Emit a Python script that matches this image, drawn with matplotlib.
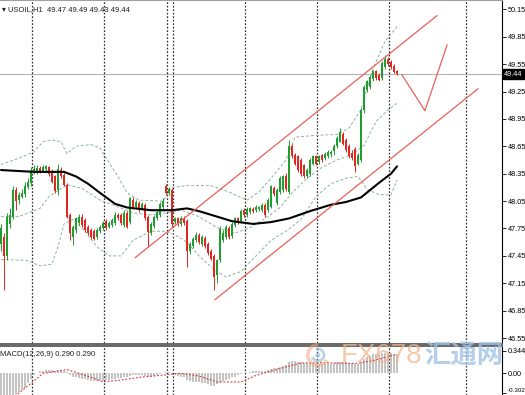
import matplotlib.pyplot as plt
import numpy as np
from matplotlib.patches import Circle, Wedge, Rectangle

plt.rcParams['font.family'] = ['Liberation Sans', 'DejaVu Sans']

symbol = 'USOIL,H1'
last_ohlc = [49.47, 49.49, 49.43, 49.44]

# hourly candles (oldest first)
opens = [47.58, 47.66, 47.45, 47.80, 47.88, 48.17, 48.06, 48.10, 48.13, 48.20,
         48.25, 48.37, 48.37, 48.41, 48.38, 48.40, 48.42, 48.37, 48.32, 48.17,
         48.39, 48.34, 48.23, 47.90, 47.66, 47.73, 47.81, 47.88, 47.84, 47.77,
         47.73, 47.72, 47.66, 47.72, 47.75, 47.83, 47.77, 47.79, 47.81, 47.90,
         47.90, 47.79, 47.92, 47.82, 48.06, 47.99, 48.03, 47.97, 48.01, 47.88,
         47.70, 47.78, 47.86, 47.90, 47.98, 48.21, 48.14, 48.17, 47.82, 47.86,
         47.80, 47.87, 47.83, 47.50, 47.56, 47.62, 47.68, 47.58, 47.65, 47.58,
         47.50, 47.45, 47.24, 47.40, 47.62, 47.66, 47.76, 47.67, 47.79, 47.86,
         47.83, 47.95, 47.90, 47.93, 47.96, 47.95, 47.96, 47.95, 48.01, 47.95,
         47.99, 48.19, 48.03, 48.15, 48.17, 48.33, 48.15, 48.65, 48.56, 48.54,
         48.50, 48.44, 48.32, 48.35, 48.46, 48.54, 48.48, 48.55, 48.52, 48.54,
         48.57, 48.60, 48.65, 48.70, 48.79, 48.72, 48.65, 48.58, 48.62, 48.46,
         48.50, 49.05, 49.27, 49.30, 49.39, 49.47, 49.43, 49.40, 49.52, 49.61,
         49.57, 49.53, 49.47]
highs = [47.80, 47.70, 47.92, 47.97, 48.22, 48.20, 48.15, 48.18, 48.26, 48.30,
         48.42, 48.44, 48.44, 48.43, 48.44, 48.45, 48.43, 48.40, 48.34, 48.46,
         48.42, 48.36, 48.25, 47.92, 47.79, 47.88, 47.91, 47.91, 47.86, 47.79,
         47.75, 47.74, 47.75, 47.79, 47.83, 47.85, 47.83, 47.86, 47.93, 47.92,
         47.92, 47.95, 47.94, 48.10, 48.09, 48.06, 48.05, 48.04, 48.03, 47.90,
         47.82, 47.90, 47.95, 48.04, 48.08, 48.24, 48.20, 48.19, 47.88, 47.88,
         47.89, 47.89, 47.85, 47.60, 47.66, 47.71, 47.70, 47.68, 47.67, 47.60,
         47.52, 47.47, 47.42, 47.78, 47.73, 47.79, 47.78, 47.82, 47.88, 47.88,
         47.96, 47.97, 47.98, 47.99, 47.98, 48.01, 48.00, 48.03, 48.03, 48.08,
         48.23, 48.21, 48.19, 48.32, 48.34, 48.36, 48.72, 48.67, 48.58, 48.56,
         48.52, 48.46, 48.41, 48.52, 48.56, 48.56, 48.56, 48.57, 48.59, 48.61,
         48.61, 48.67, 48.76, 48.85, 48.81, 48.74, 48.67, 48.61, 48.64, 48.58,
         49.07, 49.32, 49.38, 49.43, 49.49, 49.49, 49.45, 49.58, 49.65, 49.63,
         49.59, 49.55, 49.49]
lows = [47.50, 47.08, 47.40, 47.75, 47.85, 47.95, 48.02, 48.08, 48.10, 48.18,
        48.22, 48.35, 48.35, 48.36, 48.37, 48.38, 48.33, 48.25, 48.14, 48.12,
        48.30, 48.21, 47.86, 47.62, 47.57, 47.70, 47.79, 47.77, 47.71, 47.68,
        47.64, 47.62, 47.64, 47.70, 47.73, 47.73, 47.75, 47.77, 47.79, 47.84,
        47.79, 47.77, 47.75, 47.80, 47.97, 47.97, 47.93, 47.95, 47.84, 47.55,
        47.68, 47.76, 47.84, 47.88, 47.96, 48.12, 48.12, 47.77, 47.80, 47.78,
        47.78, 47.79, 47.33, 47.47, 47.54, 47.60, 47.58, 47.56, 47.54, 47.46,
        47.40, 47.08, 47.15, 47.38, 47.60, 47.64, 47.64, 47.65, 47.77, 47.80,
        47.81, 47.88, 47.88, 47.91, 47.92, 47.93, 47.94, 47.93, 47.88, 47.93,
        47.97, 48.11, 48.01, 48.13, 48.15, 48.16, 48.13, 48.52, 48.44, 48.37,
        48.33, 48.30, 48.30, 48.33, 48.44, 48.44, 48.46, 48.48, 48.50, 48.52,
        48.53, 48.55, 48.63, 48.70, 48.66, 48.59, 48.52, 48.50, 48.37, 48.44,
        48.48, 49.02, 49.25, 49.28, 49.37, 49.38, 49.36, 49.38, 49.50, 49.53,
        49.50, 49.45, 49.43]
closes = [47.75, 47.45, 47.88, 47.90, 48.17, 48.05, 48.12, 48.14, 48.22, 48.26,
          48.39, 48.40, 48.41, 48.38, 48.42, 48.43, 48.35, 48.26, 48.16, 48.40,
          48.32, 48.23, 47.88, 47.70, 47.77, 47.86, 47.88, 47.79, 47.73, 47.70,
          47.66, 47.64, 47.73, 47.77, 47.81, 47.75, 47.81, 47.84, 47.90, 47.86,
          47.81, 47.92, 47.77, 48.08, 47.99, 48.04, 47.95, 48.02, 47.86, 47.71,
          47.80, 47.88, 47.93, 48.02, 48.05, 48.14, 48.18, 47.80, 47.86, 47.80,
          47.87, 47.81, 47.50, 47.58, 47.63, 47.68, 47.60, 47.66, 47.56, 47.48,
          47.42, 47.22, 47.40, 47.74, 47.70, 47.77, 47.66, 47.80, 47.86, 47.82,
          47.94, 47.90, 47.96, 47.97, 47.94, 47.99, 47.98, 48.01, 47.90, 48.06,
          48.21, 48.13, 48.17, 48.30, 48.32, 48.18, 48.65, 48.54, 48.46, 48.39,
          48.35, 48.32, 48.39, 48.50, 48.54, 48.46, 48.54, 48.50, 48.57, 48.59,
          48.59, 48.65, 48.74, 48.81, 48.68, 48.61, 48.54, 48.52, 48.43, 48.55,
          49.05, 49.30, 49.36, 49.41, 49.47, 49.40, 49.38, 49.56, 49.61, 49.55,
          49.52, 49.46, 49.44]

# black moving average (sampled along the curve)
ma_idx = [0, 11, 21, 25, 29, 33, 38, 42, 50, 57, 62, 66, 72, 77, 84, 90, 96,
          103, 110, 115, 120, 126, 130, 132]
ma_val = [48.39, 48.37, 48.37, 48.32, 48.24, 48.14, 48.02, 47.98, 47.95, 47.95,
          47.97, 47.94, 47.88, 47.83, 47.80, 47.82, 47.86, 47.94, 48.01, 48.04,
          48.09, 48.25, 48.35, 48.43]

# bollinger bands (sampled)
bb_up_idx = [0, 6, 11, 14, 17, 20, 22, 25, 30, 33, 36, 39, 42, 46, 54, 57, 62,
             70, 76, 82, 86, 90, 95, 98, 105, 112, 116, 120, 124, 128, 132]
bb_up = [48.45, 48.52, 48.59, 48.70, 48.72, 48.70, 48.57, 48.65, 48.67, 48.63,
         48.47, 48.32, 48.14, 48.06, 48.05, 48.20, 48.22, 48.22, 48.15, 48.06,
         48.15, 48.30, 48.50, 48.75, 48.77, 48.78, 48.85, 49.05, 49.50, 49.80,
         49.96]
bb_mid_idx = [0, 6, 13, 16, 22, 27, 33, 38, 44, 50, 55, 60, 66, 72, 78, 83, 88,
              93, 97, 102, 107, 112, 117, 121, 125, 129, 132]
bb_mid = [47.88, 47.88, 47.97, 48.10, 48.23, 48.19, 48.06, 48.00, 47.92, 47.90,
          47.92, 47.95, 47.88, 47.76, 47.70, 47.76, 47.86, 47.98, 48.14, 48.30,
          48.42, 48.50, 48.56, 48.66, 48.92, 49.05, 49.12]
bb_lo_idx = [0, 9, 13, 17, 19, 21, 24, 28, 32, 36, 40, 44, 50, 55, 58, 62, 66,
             71, 75, 80, 85, 90, 95, 100, 105, 110, 115, 119, 122, 126, 130, 132]
bb_lo = [47.41, 47.40, 47.34, 47.36, 47.55, 47.80, 47.85, 47.72, 47.55, 47.45,
         47.45, 47.62, 47.72, 47.72, 47.68, 47.60, 47.45, 47.30, 47.22, 47.28,
         47.45, 47.62, 47.72, 47.85, 48.10, 48.24, 48.30, 48.32, 48.18, 48.12,
         48.12, 48.28]

# MACD(12,26,9): main histogram + signal
macd_main = [-0.42, -0.44, -0.40, -0.37, -0.33, -0.31, -0.29, -0.26, -0.22, -0.15,
             -0.08, -0.02, 0.01, 0.03, 0.04, 0.05, 0.05, 0.05, 0.04, 0.05,
             0.05, 0.04, 0.02, -0.02, -0.05, -0.06, -0.07, -0.08, -0.09, -0.10,
             -0.11, -0.12, -0.12, -0.12, -0.11, -0.10, -0.10, -0.09, -0.08, -0.07,
             -0.07, -0.06, -0.06, -0.04, -0.03, -0.03, -0.03, -0.03, -0.04, -0.05,
             -0.05, -0.04, -0.03, -0.01, 0.00, 0.02, 0.02, -0.01, -0.03, -0.04,
             -0.05, -0.06, -0.10, -0.12, -0.13, -0.13, -0.13, -0.14, -0.15, -0.16,
             -0.19, -0.19, -0.16, -0.14, -0.12, -0.10, -0.08, -0.06, -0.05, -0.03,
             -0.01, 0.00, 0.01, 0.02, 0.03, 0.03, 0.04, 0.04, 0.04, 0.05,
             0.07, 0.08, 0.09, 0.10, 0.12, 0.13, 0.18, 0.19, 0.19, 0.18,
             0.17, 0.16, 0.16, 0.16, 0.16, 0.15, 0.15, 0.15, 0.15, 0.15,
             0.15, 0.16, 0.17, 0.18, 0.18, 0.17, 0.16, 0.16, 0.15, 0.14,
             0.18, 0.22, 0.25, 0.27, 0.29, 0.30, 0.30, 0.31, 0.32, 0.32,
             0.31, 0.30, 0.29]
sig_idx = [0, 3, 6, 10, 14, 16, 22, 26, 31, 34, 40, 46, 53, 59, 62, 66, 72, 80,
           85, 93, 100, 106, 118, 124, 130, 132]
sig_val = [-0.46, -0.40, -0.30, -0.15, 0.0, 0.015, 0.06, 0.0, -0.075, -0.13,
           -0.10, -0.06, -0.03, 0.0, -0.01, -0.04, -0.13, -0.13, -0.03, 0.075,
           0.16, 0.165, 0.15, 0.195, 0.27, 0.29]

price_ticks = [50.15, 49.85, 49.55, 49.25, 48.95, 48.65, 48.35, 48.05, 47.75,
               47.45, 47.15, 46.85, 46.55]
macd_ticks = [0.344, 0.0, -0.302]
macd_tick_labels = ['0.344', '0.00', '-0.302']

# period separators (bar positions)
day_breaks = [10.33, 34.33, 55.33, 57.33, 81.5, 105.5, 129.5, 155.0]

# hand-drawn channel and projected path (bar index, price)
chan_up_x, chan_up_y = [44.7, 145.3], [47.43, 50.08]
chan_lo_x, chan_lo_y = [71.3, 159.0], [46.97, 49.28]
path_x, path_y = [133.7, 141.3, 148.7], [49.43, 49.04, 49.76]

W, H = 525, 395
fig = plt.figure(figsize=(W / 100, H / 100), dpi=100)
ax = fig.add_axes([0, 1 - 343 / H, 502 / W, 343 / H])
mx = fig.add_axes([0, 0, 502 / W, 48 / H])

idx = np.arange(len(closes))
o, hi, lo, c = map(np.array, (opens, highs, lows, closes))
col = np.where(c >= o, '#1f9d30', '#e3261e')

ax.axhline(last_ohlc[3], color='#b4b4b4', lw=0.8, zorder=0.5)
for b in day_breaks:
    ax.axvline(b, color='#333333', ls=(0, (1.4, 1.4)), lw=0.9, zorder=0.6)
    mx.axvline(b, color='#333333', ls=(0, (1.4, 1.4)), lw=0.9, zorder=0.6)

band = dict(color='#8fb39c', lw=0.7, ls=(0, (3, 2)), zorder=1)
ax.plot(bb_up_idx, bb_up, **band)
ax.plot(bb_mid_idx, bb_mid, **band)
ax.plot(bb_lo_idx, bb_lo, **band)

ax.vlines(idx, lo, hi, colors=col, lw=0.7, zorder=3)
ax.bar(idx, np.maximum(np.abs(c - o), 0.008), bottom=np.minimum(o, c),
       width=0.66, color=col, lw=0, zorder=3)
ax.plot(ma_idx, ma_val, color='black', lw=1.5, zorder=4, solid_capstyle='round')

red = '#e8605a'
ax.plot(chan_up_x, chan_up_y, color=red, lw=0.9, zorder=5)
ax.plot(chan_lo_x, chan_lo_y, color=red, lw=0.9, zorder=5)
ax.plot(path_x, path_y, color=red, lw=0.9, zorder=5)

ax.set_xlim(-0.33, 167)
ax.set_ylim(46.496, 50.252)
ax.set_xticks([])
ax.yaxis.tick_right()
ax.set_yticks(price_ticks)
ax.set_yticklabels([f'{t:.2f}' for t in price_ticks])
ax.tick_params(axis='y', direction='out', length=3, width=0.6, labelsize=5.2, pad=1)
ax.spines['left'].set_visible(False)
ax.spines['bottom'].set_visible(False)
ax.spines['top'].set_color('#a0a0a0')
ax.spines['right'].set_linewidth(0.8)

ax.text(0.004, 0.971, '\u25be ' + symbol + '  ' + ' '.join(f'{v:.2f}' for v in last_ohlc),
        transform=ax.transAxes, fontsize=5.5, va='center', ha='left', color='#202020')
ax.text(1.004, last_ohlc[3], f'{last_ohlc[3]:.2f}', transform=ax.get_yaxis_transform(),
        ha='left', va='center', fontsize=5.2, color='white', clip_on=False, zorder=10,
        bbox=dict(boxstyle='square,pad=0.18', fc='black', ec='black'))

# MACD window
mx.bar(idx, macd_main, width=0.35, color='#c3c3c3', lw=0, zorder=1)
mx.plot(sig_idx, sig_val, color='#e03535', lw=0.8, ls=(0, (1.6, 1.6)), zorder=2)
mx.set_xlim(-0.33, 167)
mx.set_ylim(-0.329, 0.404)
mx.set_xticks([])
mx.yaxis.tick_right()
mx.set_yticks(macd_ticks)
mx.set_yticklabels(macd_tick_labels)
mx.tick_params(axis='y', direction='out', length=3, width=0.6, labelsize=5.2, pad=1)
low_lbl = mx.get_yticklabels()[-1]
low_lbl.set_verticalalignment('bottom')
low_lbl.set_fontsize(4.5)
for s in ['left', 'bottom', 'top']:
    mx.spines[s].set_visible(False)
mx.spines['right'].set_linewidth(0.8)
mx.text(0.0, 0.84, 'MACD(12,26,9) 0.290 0.290', transform=mx.transAxes,
        fontsize=5.5, va='center', ha='left', color='#202020')

# window separator
fig.patches.append(Rectangle((0, (H - 347) / H), 503 / W, 4 / H, transform=fig.transFigure,
                             fc='#6a6a6a', ec='none', zorder=5))

# watermark
logo_c = (318 / 100, (H - 355) / 100)
fig.patches.append(Wedge(logo_c, 0.12, 90, 330, width=0.035, transform=fig.dpi_scale_trans,
                         fc='#f3a77d', ec='none', alpha=0.55, zorder=20))
fig.patches.append(Wedge(logo_c, 0.075, 200, 470, width=0.03, transform=fig.dpi_scale_trans,
                         fc='#8fb6dd', ec='none', alpha=0.6, zorder=20))
fig.patches.append(Circle(logo_c, 0.025, transform=fig.dpi_scale_trans,
                          fc='#8fb6dd', ec='none', alpha=0.6, zorder=20))
fig.text(341 / W, (H - 356) / H, 'FX678', fontsize=20, color='#f6b58e', alpha=0.75,
         ha='left', va='center', family=['Liberation Sans', 'DejaVu Sans'], zorder=20)
fig.text(424 / W, (H - 356) / H, '汇通网', fontsize=19, color='#a3c4e6', alpha=0.8,
         ha='left', va='center', fontweight='bold',
         family=['Noto Sans CJK SC', 'DejaVu Sans'], zorder=20)

fig.savefig('out.png', dpi=100)
